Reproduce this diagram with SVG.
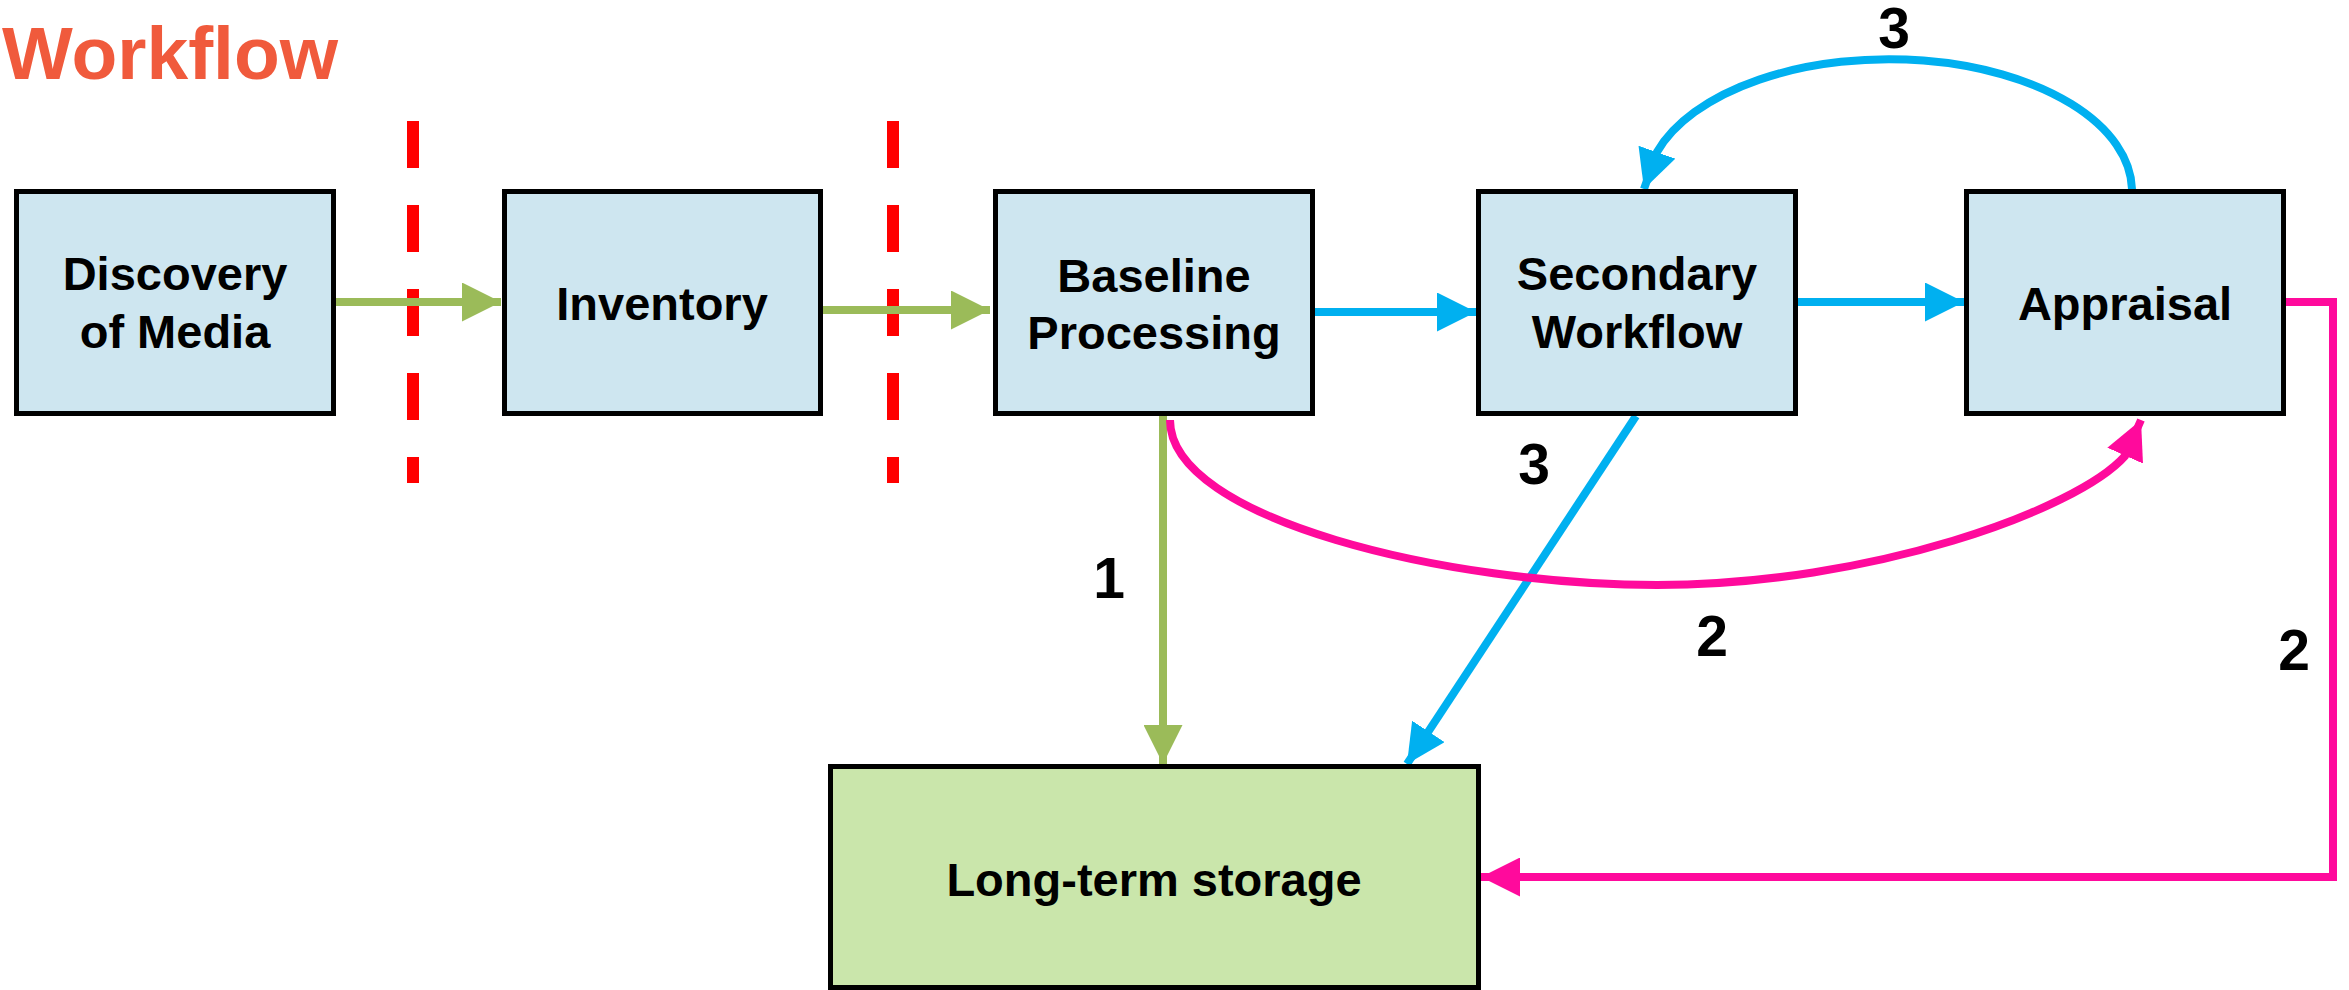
<svg xmlns="http://www.w3.org/2000/svg" width="2349" height="990" viewBox="0 0 2349 990">
  <style>
    .box { fill: #CEE6F0; stroke: #000; stroke-width: 5; }
    .store { fill: #CAE6AB; stroke: #000; stroke-width: 5; }
    .lbl { font-family: "Liberation Sans", Arial, sans-serif; font-weight: bold; font-size: 47px; fill: #000; text-anchor: middle; }
    .num { font-family: "Liberation Sans", Arial, sans-serif; font-weight: bold; font-size: 57px; fill: #000; text-anchor: middle; }
    .title { font-family: "Liberation Sans", Arial, sans-serif; font-weight: bold; font-size: 75px; fill: #F05A3C; }
    .sep { stroke: #FF0000; stroke-width: 12; stroke-dasharray: 47 37; fill: none; }
    .g { stroke: #9BBB59; stroke-width: 8; fill: none; }
    .b { stroke: #00B0F0; stroke-width: 8; fill: none; }
    .m { stroke: #FF0A9C; stroke-width: 8; fill: none; }
  </style>
  <defs>
    <marker id="ag" markerUnits="userSpaceOnUse" viewBox="0 0 39 39" markerWidth="39" markerHeight="39" refX="39" refY="19.5" orient="auto">
      <path d="M0,0 L39,19.5 L0,39 Z" fill="#9BBB59"/>
    </marker>
    <marker id="ab" markerUnits="userSpaceOnUse" viewBox="0 0 39 39" markerWidth="39" markerHeight="39" refX="39" refY="19.5" orient="auto">
      <path d="M0,0 L39,19.5 L0,39 Z" fill="#00B0F0"/>
    </marker>
    <marker id="am" markerUnits="userSpaceOnUse" viewBox="0 0 39 39" markerWidth="39" markerHeight="39" refX="39" refY="19.5" orient="auto">
      <path d="M0,0 L39,19.5 L0,39 Z" fill="#FF0A9C"/>
    </marker>
  </defs>

  <rect width="2349" height="990" fill="#FFFFFF"/>

  <text class="title" x="2" y="79">Workflow</text>

  <g id="separators">
    <line class="sep" x1="413" y1="121" x2="413" y2="483"/>
    <line class="sep" x1="893" y1="121" x2="893" y2="483"/>
  </g>

  <g id="connectors">
    <path class="g" d="M336,302 L501,302" marker-end="url(#ag)"/>
    <path class="g" d="M823,310 L990,310" marker-end="url(#ag)"/>
    <path class="b" d="M1315,312 L1476,312" marker-end="url(#ab)"/>
    <path class="b" d="M1798,302 L1964,302" marker-end="url(#ab)"/>
    <path class="g" d="M1163,416 L1163,764" marker-end="url(#ag)"/>
    <path class="b" d="M1636,416 L1407,764" marker-end="url(#ab)"/>
    <path class="b" d="M2132,189 A243,132 0 0 0 1657,152 L1644,189" marker-end="url(#ab)"/>
    <path class="m" d="M1170,420 C1170,520 1450,585 1657,585 C1870,585 2077,510 2125,456 L2141,420" marker-end="url(#am)"/>
    <path class="m" d="M2286,302 L2333,302 L2333,877 L1481,877" marker-end="url(#am)"/>
  </g>

  <g id="discovery">
    <rect class="box" x="16.5" y="191.5" width="317" height="222"/>
    <text class="lbl" x="175" y="290">Discovery</text>
    <text class="lbl" x="175" y="348">of Media</text>
  </g>
  <g id="inventory">
    <rect class="box" x="504.5" y="191.5" width="316" height="222"/>
    <text class="lbl" x="662" y="320">Inventory</text>
  </g>
  <g id="baseline">
    <rect class="box" x="995.5" y="191.5" width="317" height="222"/>
    <text class="lbl" x="1154" y="292">Baseline</text>
    <text class="lbl" x="1154" y="349">Processing</text>
  </g>
  <g id="secondary">
    <rect class="box" x="1478.5" y="191.5" width="317" height="222"/>
    <text class="lbl" x="1637" y="290">Secondary</text>
    <text class="lbl" x="1637" y="348">Workflow</text>
  </g>
  <g id="appraisal">
    <rect class="box" x="1966.5" y="191.5" width="317" height="222"/>
    <text class="lbl" x="2125" y="320">Appraisal</text>
  </g>
  <g id="storage">
    <rect class="store" x="830.5" y="766.5" width="648" height="221"/>
    <text class="lbl" x="1154" y="896">Long-term storage</text>
  </g>

  <g id="labels">
    <text class="num" x="1894" y="48">3</text>
    <text class="num" x="1109" y="598">1</text>
    <text class="num" x="1534" y="484">3</text>
    <text class="num" x="1712" y="656">2</text>
    <text class="num" x="2294" y="670">2</text>
  </g>
</svg>
